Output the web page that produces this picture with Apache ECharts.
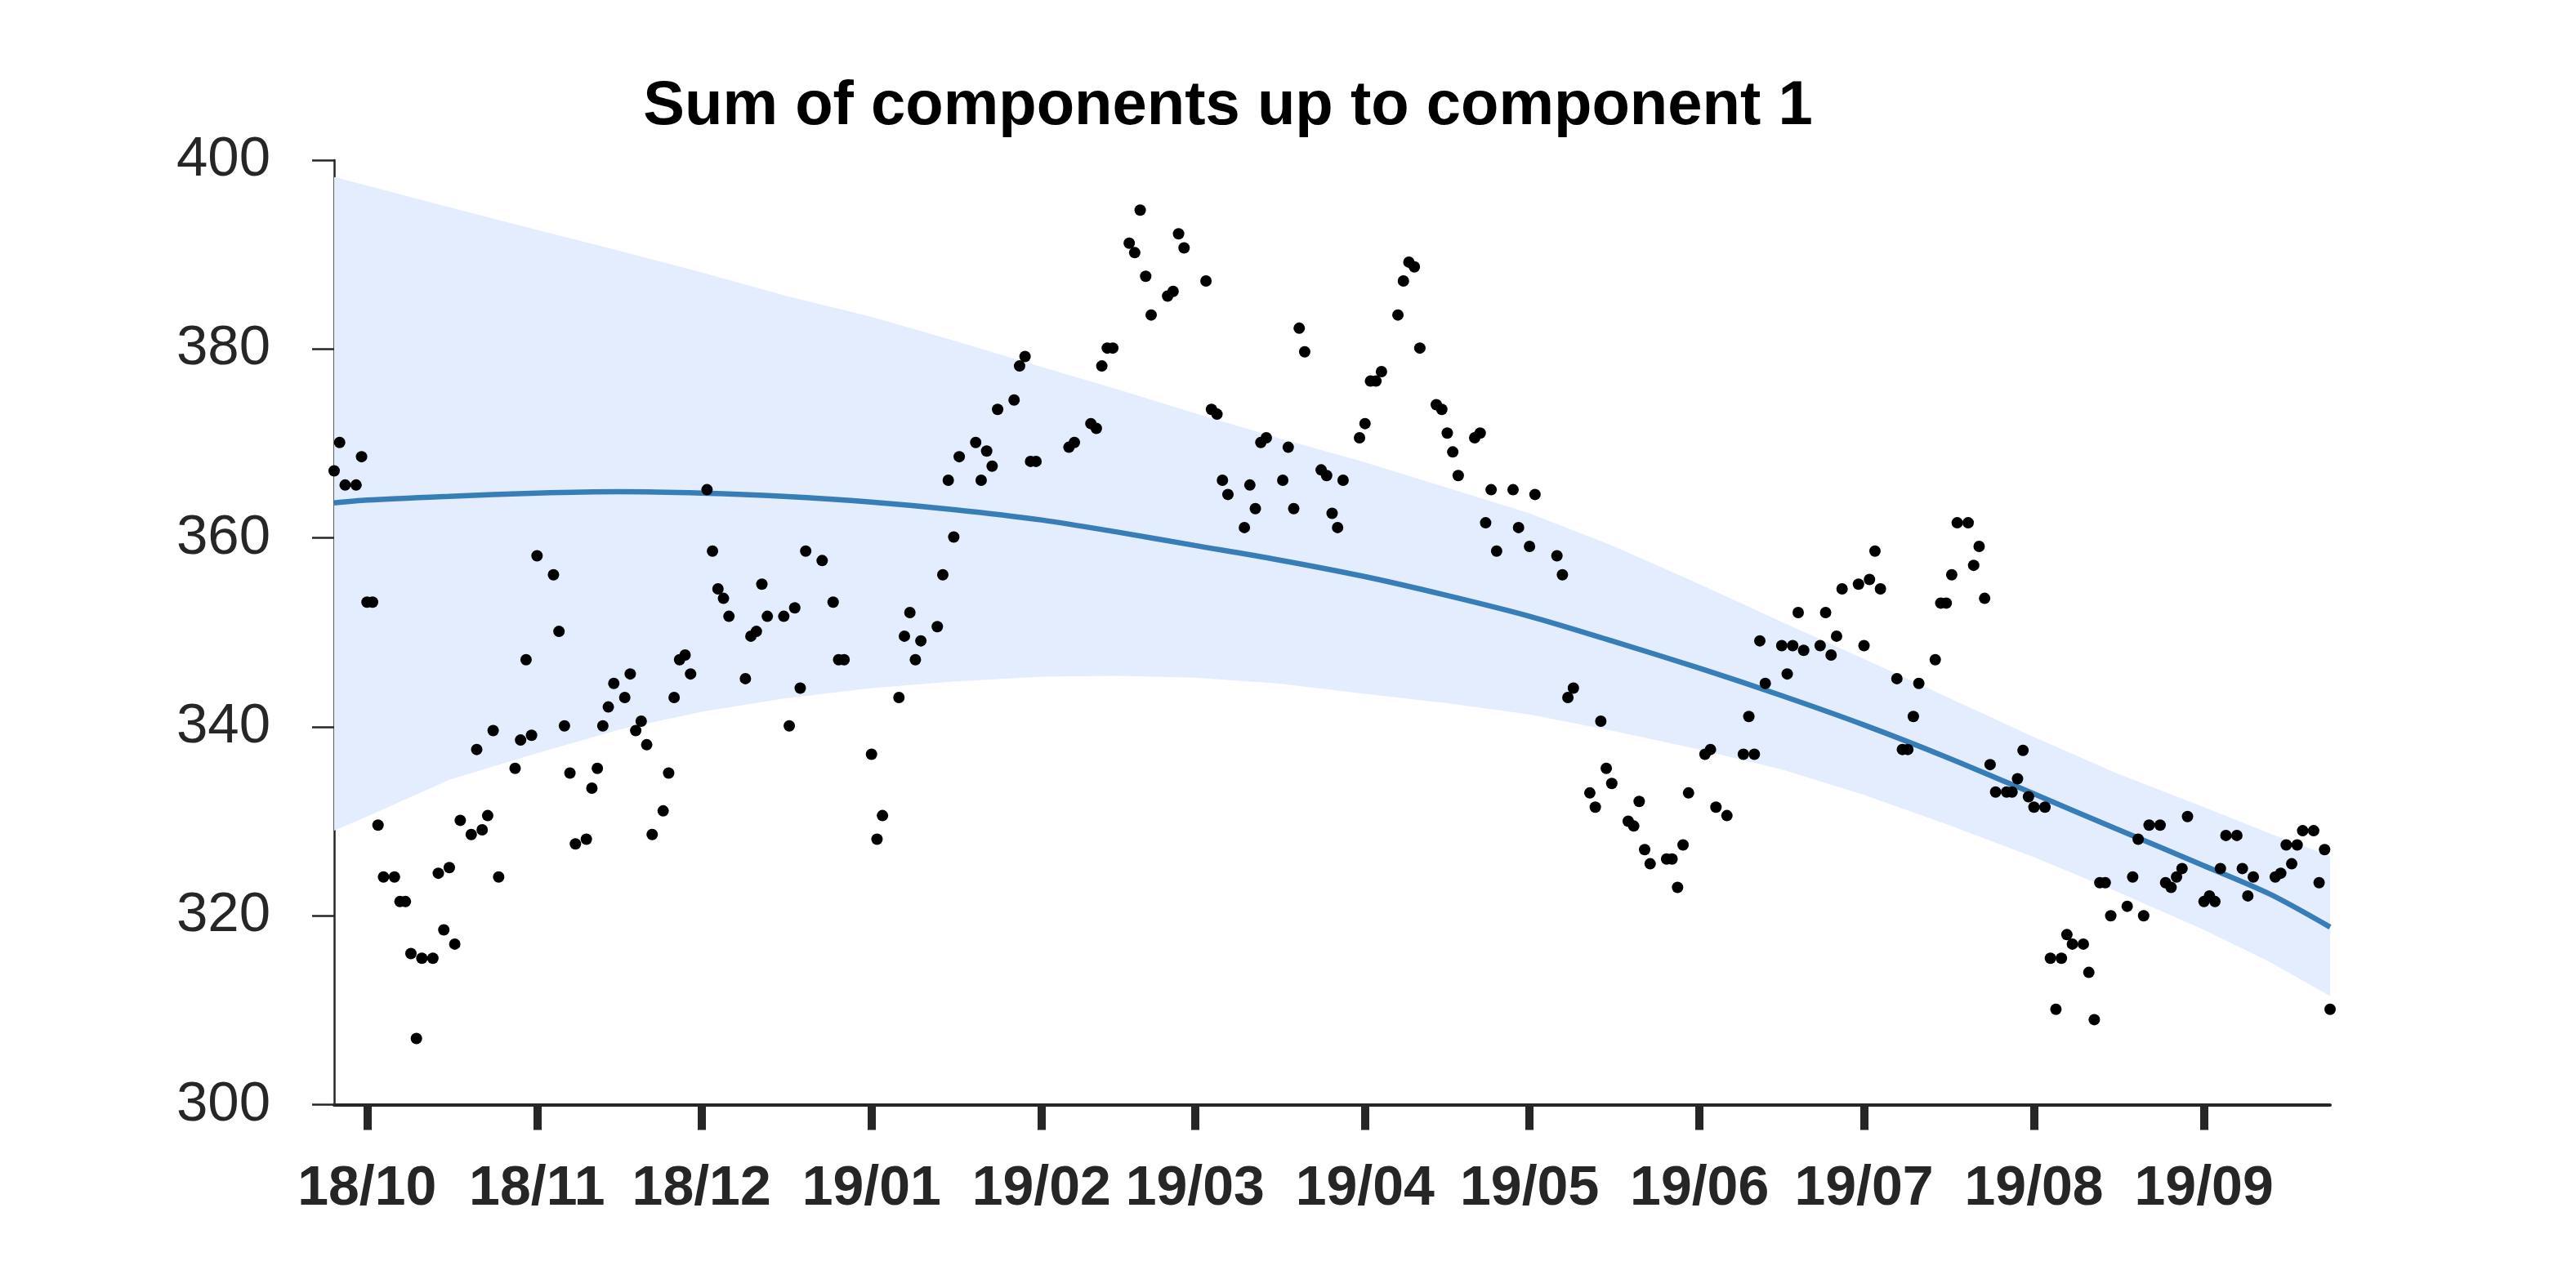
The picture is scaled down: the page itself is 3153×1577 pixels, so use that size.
<!DOCTYPE html>
<html><head><meta charset="utf-8">
<script src="https://cdn.jsdelivr.net/npm/echarts@6/dist/echarts.min.js"></script>
<style>html,body{margin:0;padding:0;background:#fff}#c{width:3153px;height:1577px}</style>
</head><body><div id="c"></div>
<script>
const dates = [
'2018-09-25','2018-09-26','2018-09-27','2018-09-29','2018-09-30','2018-10-01','2018-10-02','2018-10-03','2018-10-04','2018-10-06',
'2018-10-07','2018-10-08','2018-10-09','2018-10-10','2018-10-11','2018-10-13','2018-10-14','2018-10-15','2018-10-16','2018-10-17',
'2018-10-18','2018-10-20','2018-10-21','2018-10-22','2018-10-23','2018-10-24','2018-10-25','2018-10-28','2018-10-29','2018-10-30',
'2018-10-31','2018-11-01','2018-11-04','2018-11-05','2018-11-06','2018-11-07','2018-11-08','2018-11-10','2018-11-11','2018-11-12',
'2018-11-13','2018-11-14','2018-11-15','2018-11-17','2018-11-18','2018-11-19','2018-11-20','2018-11-21','2018-11-22','2018-11-24',
'2018-11-25','2018-11-26','2018-11-27','2018-11-28','2018-11-29','2018-12-02','2018-12-03','2018-12-04','2018-12-05','2018-12-06',
'2018-12-09','2018-12-10','2018-12-11','2018-12-12','2018-12-13','2018-12-16','2018-12-17','2018-12-18','2018-12-19','2018-12-20',
'2018-12-23','2018-12-25','2018-12-26','2018-12-27','2019-01-01','2019-01-02','2019-01-03','2019-01-06','2019-01-07','2019-01-08',
'2019-01-09','2019-01-10','2019-01-13','2019-01-14','2019-01-15','2019-01-16','2019-01-17','2019-01-20','2019-01-21','2019-01-22',
'2019-01-23','2019-01-24','2019-01-27','2019-01-28','2019-01-29','2019-01-30','2019-01-31','2019-02-06','2019-02-07','2019-02-10',
'2019-02-11','2019-02-12','2019-02-13','2019-02-14','2019-02-17','2019-02-18','2019-02-19','2019-02-20','2019-02-21','2019-02-24',
'2019-02-25','2019-02-26','2019-02-27','2019-03-03','2019-03-04','2019-03-05','2019-03-06','2019-03-07','2019-03-10','2019-03-11',
'2019-03-12','2019-03-13','2019-03-14','2019-03-17','2019-03-18','2019-03-19','2019-03-20','2019-03-21','2019-03-24','2019-03-25',
'2019-03-26','2019-03-27','2019-03-28','2019-03-31','2019-04-01','2019-04-02','2019-04-03','2019-04-04','2019-04-07','2019-04-08',
'2019-04-09','2019-04-10','2019-04-11','2019-04-14','2019-04-15','2019-04-16','2019-04-17','2019-04-18','2019-04-21','2019-04-22',
'2019-04-23','2019-04-24','2019-04-25','2019-04-28','2019-04-29','2019-05-01','2019-05-02','2019-05-06','2019-05-07','2019-05-08',
'2019-05-09','2019-05-12','2019-05-13','2019-05-14','2019-05-15','2019-05-16','2019-05-19','2019-05-20','2019-05-21','2019-05-22',
'2019-05-23','2019-05-26','2019-05-27','2019-05-28','2019-05-29','2019-05-30','2019-06-02','2019-06-03','2019-06-04','2019-06-06',
'2019-06-09','2019-06-10','2019-06-11','2019-06-12','2019-06-13','2019-06-16','2019-06-17','2019-06-18','2019-06-19','2019-06-20',
'2019-06-23','2019-06-24','2019-06-25','2019-06-26','2019-06-27','2019-06-30','2019-07-01','2019-07-02','2019-07-03','2019-07-04',
'2019-07-07','2019-07-08','2019-07-09','2019-07-10','2019-07-11','2019-07-14','2019-07-15','2019-07-16','2019-07-17','2019-07-18',
'2019-07-20','2019-07-21','2019-07-22','2019-07-23','2019-07-24','2019-07-25','2019-07-27','2019-07-28','2019-07-29','2019-07-30',
'2019-07-31','2019-08-01','2019-08-03','2019-08-04','2019-08-05','2019-08-06','2019-08-07','2019-08-08','2019-08-10','2019-08-11',
'2019-08-12','2019-08-13','2019-08-14','2019-08-15','2019-08-18','2019-08-19','2019-08-20','2019-08-21','2019-08-22','2019-08-24',
'2019-08-25','2019-08-26','2019-08-27','2019-08-28','2019-08-29','2019-09-01','2019-09-02','2019-09-03','2019-09-04','2019-09-05',
'2019-09-07','2019-09-08','2019-09-09','2019-09-10','2019-09-14','2019-09-15','2019-09-16','2019-09-17','2019-09-18','2019-09-19',
'2019-09-21','2019-09-22','2019-09-23','2019-09-24'
];
const values = [
367.1,370.1,365.6,365.6,368.6,353.2,353.2,329.6,324.1,324.1,
321.5,321.5,316.0,307.0,315.5,315.5,324.5,318.5,325.1,317.0,
330.1,328.6,337.6,329.1,330.6,339.6,324.1,335.6,338.6,347.1,
339.1,358.1,356.1,350.1,340.1,335.1,327.6,328.1,333.5,335.6,
340.1,342.1,344.6,343.1,345.6,339.6,340.6,338.1,328.6,331.1,
335.1,343.1,347.1,347.6,345.6,365.1,358.6,354.6,353.6,351.7,
345.1,349.6,350.1,355.1,351.7,351.7,340.1,352.6,344.1,358.6,
357.6,353.2,347.1,347.1,337.1,328.1,330.6,343.1,349.6,352.1,
347.1,349.1,350.6,356.1,366.1,360.1,368.6,370.1,366.1,369.2,
367.6,373.6,374.6,378.2,379.2,368.1,368.1,369.6,370.1,372.1,
371.6,378.2,380.1,380.1,391.2,390.2,394.7,387.7,383.6,385.6,
386.1,392.2,390.7,387.2,373.6,373.1,366.1,364.6,361.1,365.6,
363.1,370.1,370.6,366.1,369.6,363.1,382.2,379.7,367.2,366.6,
362.6,361.1,366.1,370.6,372.1,376.6,376.6,377.6,383.6,387.2,
389.2,388.7,380.1,374.1,373.6,371.1,369.1,366.6,370.6,371.1,
361.6,365.1,358.6,365.1,361.1,359.1,364.6,358.1,356.1,343.1,
344.1,333.0,331.5,340.6,335.6,334.0,330.0,329.5,332.1,327.0,
325.5,326.0,326.0,323.0,327.5,333.0,337.1,337.6,331.5,330.6,
337.1,341.1,337.1,349.1,344.6,348.6,345.6,348.6,352.1,348.1,
348.6,352.1,347.6,349.6,354.6,355.1,348.6,355.6,358.6,354.6,
345.1,337.6,337.6,341.1,344.6,347.1,353.1,353.1,356.1,361.6,
361.6,357.1,359.1,353.6,336.0,333.1,333.1,333.1,334.5,337.5,
332.6,331.5,331.5,315.5,310.1,315.5,318.0,317.0,317.0,314.0,
309.0,323.5,323.5,320.0,321.0,324.1,328.1,320.0,329.6,329.6,
323.5,323.0,324.1,325.0,330.5,321.5,322.1,321.5,325.0,328.5,
328.5,325.0,322.1,324.1,324.1,324.5,327.5,325.5,327.5,329.0,
329.0,323.5,327.0,310.1
];
const bandDates = ['2018-09-25','2018-10-01','2018-10-16','2018-11-01','2018-11-16','2018-12-01','2018-12-16',
  '2019-01-01','2019-01-16','2019-02-01','2019-02-15','2019-03-01','2019-03-16','2019-04-01','2019-04-16',
  '2019-05-01','2019-05-16','2019-06-01','2019-06-16','2019-07-01','2019-07-16','2019-08-01','2019-08-16',
  '2019-09-01','2019-09-13','2019-09-24'];
const upper = [398.2,397.3,395.0,392.6,390.4,388.1,385.7,383.4,380.9,378.1,375.7,373.2,370.6,368.0,365.3,
  362.6,359.2,355.1,351.1,347.2,343.2,338.9,335.1,331.5,328.7,326.3];
const mean  = [363.7,364.0,364.4,364.75,364.9,364.75,364.4,363.8,363.0,361.9,360.6,359.2,357.7,355.9,353.9,
  351.7,349.1,346.2,343.3,340.2,336.8,332.9,329.2,325.3,322.3,318.8];
const lower = [329.0,330.5,334.4,337.2,339.7,341.6,343.0,344.1,344.8,345.3,345.4,345.2,344.6,343.5,342.5,
  341.3,339.6,337.6,335.5,332.8,329.7,326.2,322.6,318.5,315.1,311.5];
const tickDates = ['2018-10-01','2018-11-01','2018-12-01','2019-01-01','2019-02-01','2019-03-01',
  '2019-04-01','2019-05-01','2019-06-01','2019-07-01','2019-08-01','2019-09-01'];
const titleText = 'Sum of components up to component 1';

function ts(s){const p=s.split('-');return Date.UTC(+p[0],+p[1]-1,+p[2]);}
function fmt(v){const d=new Date(v);return String(d.getUTCFullYear()).slice(2)+'/'+String(d.getUTCMonth()+1).padStart(2,'0');}

const chart = echarts.init(document.getElementById('c'), null, {renderer:'canvas'});
const FONT = 'Liberation Sans';
const DARK = '#262626';
const tickTs = tickDates.map(ts);

chart.setOption({
  animation: false,
  backgroundColor: '#ffffff',
  title: {
    text: titleText, left: 1498, top: 88, textAlign: 'center',
    textStyle: {fontFamily: FONT, fontSize: 76, fontWeight: 'bold', color: '#000'}
  },
  grid: {left: 409, right: 301, top: 196, bottom: 224.5, containLabel: false, outerBoundsMode: 'none'},
  xAxis: {
    type: 'value', min: ts(dates[0]), max: ts(dates[dates.length-1]), scale: true,
    splitLine: {show: false},
    axisLine: {show: true, onZero: false, lineStyle: {color: DARK, width: 4}},
    axisTick: {show: true, customValues: tickTs, length: 31, lineStyle: {color: DARK, width: 10}},
    axisLabel: {customValues: tickTs, formatter: fmt, fontFamily: FONT, fontSize: 68, fontWeight: 'bold', color: DARK, margin: 70}
  },
  yAxis: {
    type: 'value', min: 300, max: 400, interval: 20,
    splitLine: {show: false},
    axisLine: {show: true, lineStyle: {color: DARK, width: 2.5}},
    axisTick: {show: true, length: 27, lineStyle: {color: DARK, width: 2.5}},
    axisLabel: {fontFamily: FONT, fontSize: 69, color: DARK, margin: 78}
  },
  series: [
    {type: 'custom', name: 'band', silent: true, z: 1, clip: true,
     data: [[ts(bandDates[0]), mean[0]]],
     renderItem: function (params, api) {
       const pts = [];
       for (let i = 0; i < bandDates.length; i++) pts.push(api.coord([ts(bandDates[i]), upper[i]]));
       for (let i = bandDates.length - 1; i >= 0; i--) pts.push(api.coord([ts(bandDates[i]), lower[i]]));
       return {type: 'polygon', shape: {points: pts}, style: {fill: '#e4edfd', stroke: null}};
     }},
    {type: 'line', name: 'mean', smooth: 0.3, symbol: 'none', z: 3,
     lineStyle: {color: '#377eb8', width: 6.5},
     data: bandDates.map((d, i) => [ts(d), mean[i]])},
    {type: 'scatter', name: 'obs', symbol: 'circle', symbolSize: 14, z: 5,
     itemStyle: {color: '#000', opacity: 1},
     data: dates.map((d, i) => [ts(d), values[i]])}
  ]
});
</script>
</body></html>
